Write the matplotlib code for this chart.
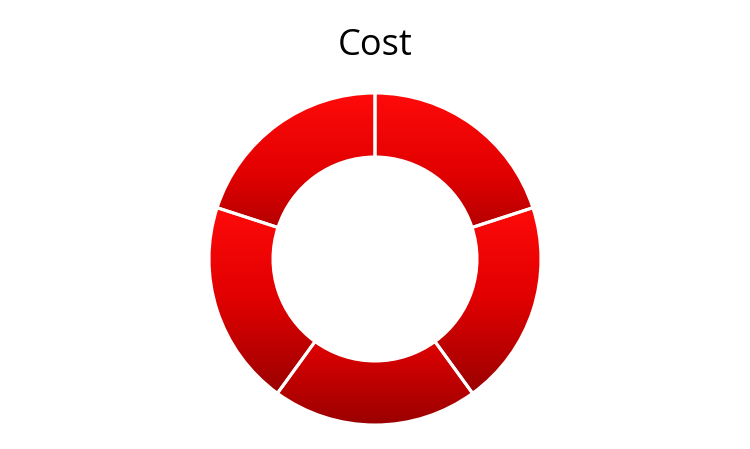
import numpy as np
import matplotlib
matplotlib.use("Agg")
import matplotlib.pyplot as plt
from matplotlib.patches import Wedge
from matplotlib.colors import LinearSegmentedColormap

# data
categories = ["1", "2", "3", "4", "5"]
values = [1, 1, 1, 1, 1]
title = "Cost"

W, H = 750, 449
fig = plt.figure(figsize=(W / 100, H / 100), dpi=100)
ax = fig.add_axes([0, 0, 1, 1])
ax.set_xlim(0, W)
ax.set_ylim(H, 0)
ax.axis("off")

cx, cy = 375, 259
r_out, r_in = 166, 102
cmap = LinearSegmentedColormap.from_list("red", ["#ff0a0a", "#e00000", "#9a0000"])
grad = np.linspace(0, 1, 256).reshape(-1, 1)

total = float(sum(values))
start = 90.0
for v in values:
    sweep = 360.0 * v / total
    # y axis is inverted, so angles go clockwise on screen when positive in data
    t1, t2 = -start, -start + sweep
    w = Wedge((cx, cy), r_out, t1, t2, width=r_out - r_in,
              facecolor="none", edgecolor="none")
    ax.add_patch(w)
    path = w.get_path()
    vx, vy = path.vertices[:, 0], path.vertices[:, 1]
    im = ax.imshow(grad, cmap=cmap, aspect="auto",
                   extent=[vx.min(), vx.max(), vy.max(), vy.min()],
                   interpolation="bilinear", zorder=1)
    im.set_clip_path(w)
    ax.add_patch(Wedge((cx, cy), r_out, t1, t2, width=r_out - r_in,
                       facecolor="none", edgecolor="white", linewidth=2.2, zorder=2))
    start -= sweep

ax.set_xlim(0, W)
ax.set_ylim(H, 0)
ax.text(cx, 46, title, ha="center", va="center", fontsize=26,
        family=["Open Sans", "DejaVu Sans"], color="black")

fig.savefig("out.png", dpi=100)
